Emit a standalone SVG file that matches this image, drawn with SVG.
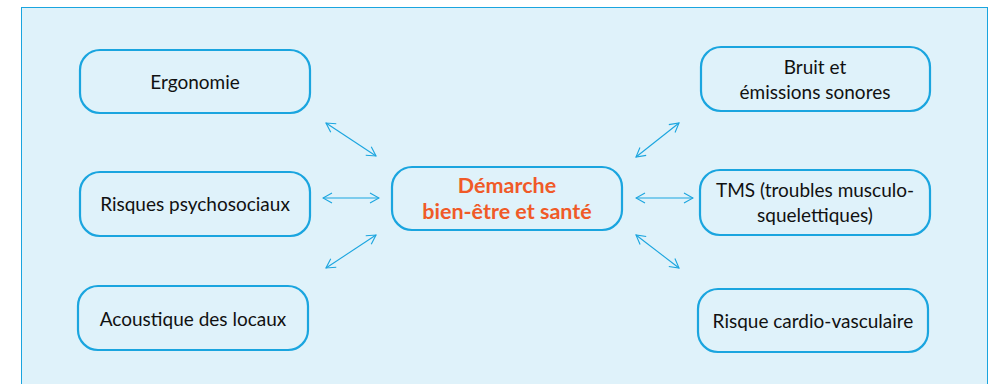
<svg xmlns="http://www.w3.org/2000/svg" width="995" height="384" viewBox="0 0 995 384">
<defs>
<style>
.node rect{fill:none;stroke:#1aa5df;stroke-width:2.2}
.node text{font-family:"Lato","Liberation Sans",sans-serif;font-size:19px;fill:#111;text-anchor:middle}
.center text{font-weight:bold;fill:#f05a28;font-size:21.5px}
.conn line{stroke:#1aa5df;stroke-width:1.1;marker-start:url(#ah);marker-end:url(#ah)}
</style>
<marker id="ah" viewBox="0 0 12 12" refX="11" refY="6" markerWidth="12" markerHeight="12" markerUnits="userSpaceOnUse" orient="auto-start-reverse">
<path d="M2,1 L11,6 L2,11" fill="none" stroke="#1aa5df" stroke-width="1.1"/>
</marker>
</defs>
<rect x="0" y="0" width="995" height="384" fill="#ffffff"/>
<rect x="21.5" y="7.5" width="966" height="390" fill="#dff2fa" stroke="#1aa5df" stroke-width="1"/>
<g id="n-ergonomie" class="node"><rect x="80" y="50" width="230" height="63" rx="20"/><text x="195" y="89">Ergonomie</text></g>
<g id="n-rps" class="node"><rect x="80" y="172" width="230" height="64" rx="20"/><text x="195" y="211">Risques psychosociaux</text></g>
<g id="n-acoustique" class="node"><rect x="78" y="286" width="230" height="64" rx="20"/><text x="193" y="326">Acoustique des locaux</text></g>
<g id="n-center" class="node center"><rect x="392" y="167" width="230" height="63" rx="20"/><text x="507" y="193">Démarche</text><text x="507" y="219">bien-être et santé</text></g>
<g id="n-bruit" class="node"><rect x="701" y="47" width="229" height="64" rx="20"/><text x="815" y="74">Bruit et</text><text x="815" y="99">émissions sonores</text></g>
<g id="n-tms" class="node"><rect x="700" y="170" width="230" height="65" rx="20"/><text x="815" y="197">TMS (troubles musculo-</text><text x="815" y="222">squelettiques)</text></g>
<g id="n-cardio" class="node"><rect x="698" y="289" width="230" height="63" rx="20"/><text x="813" y="328">Risque cardio-vasculaire</text></g>
<g id="connectors" class="conn">
<line x1="326" y1="123" x2="376" y2="156"/>
<line x1="323" y1="198" x2="379" y2="198"/>
<line x1="326" y1="268" x2="376" y2="235"/>
<line x1="636" y1="157" x2="679" y2="123"/>
<line x1="636" y1="198" x2="693" y2="198"/>
<line x1="636" y1="235" x2="679" y2="268"/>
</g>
</svg>
